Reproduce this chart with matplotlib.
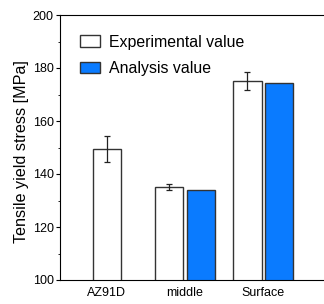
import matplotlib.pyplot as plt
import numpy as np

# Data
categories = ['AZ91D', 'middle', 'Surface']
exp_values = [149.5, 135.2, 175.1]
exp_errors = [4.8, 1.1, 3.3]
analysis_values = [None, 133.8, 174.5]

plt.rcParams['font.family'] = ['Liberation Sans', 'DejaVu Sans']

fig = plt.figure(figsize=(3.24, 3.04), dpi=100)
ax = fig.add_axes([60 / 324, 24 / 304, 1 - 60 / 324, 265 / 304])

x = np.arange(len(categories))
w = 0.36
off = 0.2
blue = '#0A7BFF'
edge = '#333333'

exp_x = [x[0]] + [xi - off for xi in x[1:]]
ax.bar(exp_x, exp_values, width=w, bottom=0, color='white', edgecolor=edge,
       linewidth=1.0, label='Experimental value', zorder=2)
ax.errorbar(exp_x, exp_values, yerr=exp_errors, fmt='none', ecolor='#222222',
            elinewidth=0.9, capsize=2.5, capthick=0.9, zorder=3)

ana_x = [xi + off for xi in x[1:]]
ax.bar(ana_x, analysis_values[1:], width=w, color=blue, edgecolor=edge,
       linewidth=1.0, label='Analysis value', zorder=2)

ax.set_ylim(100, 200)
ax.set_xlim(-0.6, 2.78)
ax.set_xticks(x)
ax.set_xticklabels(categories, fontsize=9)
ax.tick_params(axis='x', length=0, pad=5)
ax.set_yticks([100, 120, 140, 160, 180, 200])
ax.set_yticks([110, 130, 150, 170, 190], minor=True)
ax.tick_params(axis='y', which='major', direction='out', length=3, labelsize=9, pad=1.5)
ax.tick_params(axis='y', which='minor', direction='out', length=1.5)
ax.set_ylabel('Tensile yield stress [MPa]', fontsize=11.6)
ax.yaxis.set_label_coords(-0.117, 0.485)
ax.spines['right'].set_visible(False)

ax.legend(loc='upper left', bbox_to_anchor=(0.052, 0.95), frameon=False,
          fontsize=11.4, handlelength=1.25, handleheight=0.7,
          handletextpad=0.55, labelspacing=0.74, borderaxespad=0)

fig.savefig('out.png', dpi=100)
